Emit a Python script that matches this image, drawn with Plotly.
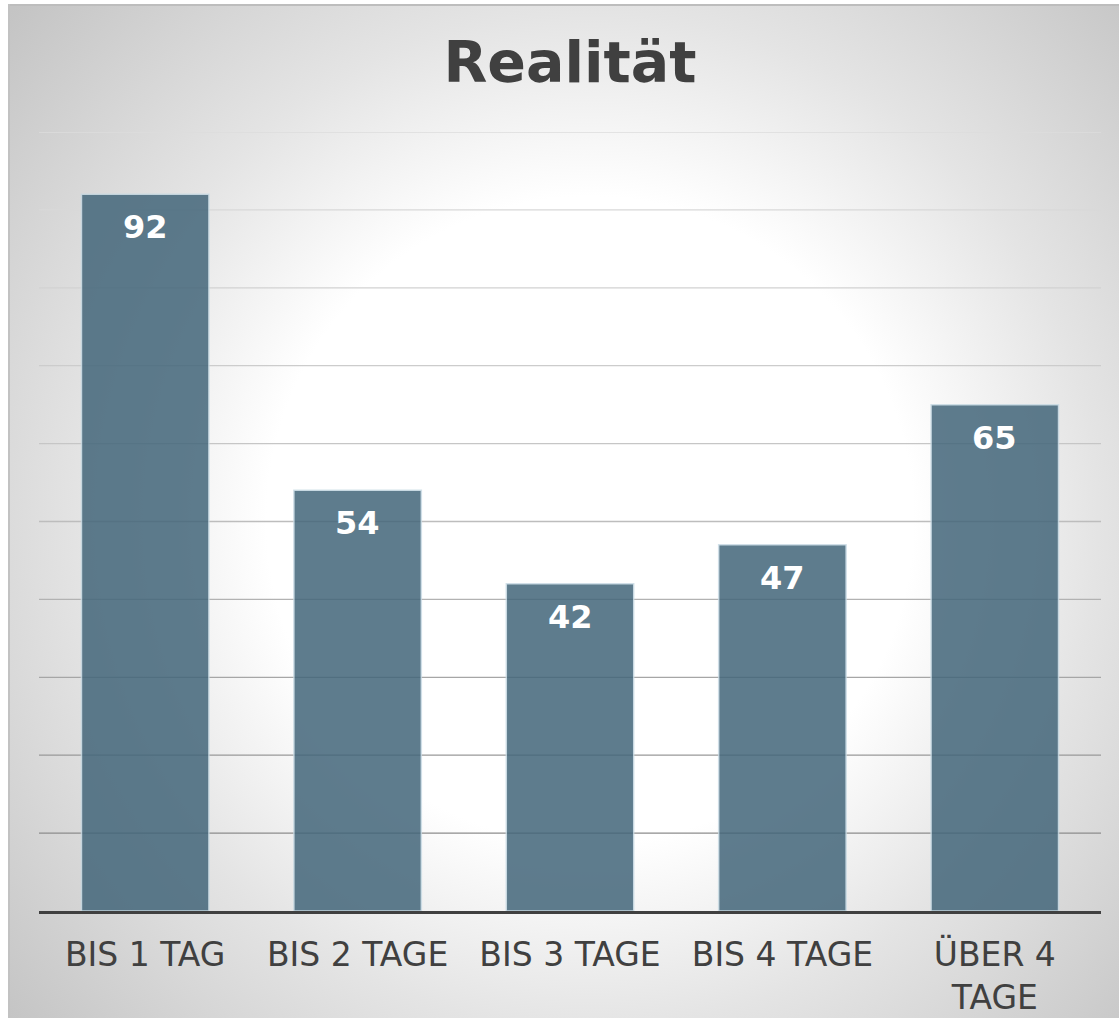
import base64
import plotly.graph_objects as go

# ---- data ----
categories = ["BIS 1 TAG", "BIS 2 TAGE", "BIS 3 TAGE", "BIS 4 TAGE", "ÜBER 4<br>TAGE"]
values = [92, 54, 42, 47, 65]
grid_values = [10, 20, 30, 40, 50, 60, 70, 80, 90, 100]
title_text = "Realität"

# ---- styles ----
grid_colors = ["#8c8c8c", "#999999", "#a6a6a6", "#b2b2b2", "#bdbdbd",
               "#c6c6c6", "#cccccc", "#d2d2d2", "#d8d8d8", "#dcdcdc"]
W, H = 1119, 1019
L, R, T, B = 39, 18, 132, 108
pw, ph = W - L - R, H - T - B

# background radial gradient (chart area) as inline SVG image
bx0, by0, bx1, by1 = 8, 4, 1119, 1018
bw, bh = bx1 - bx0, by1 - by0
svg = f'''<svg xmlns="http://www.w3.org/2000/svg" width="{bw}" height="{bh}" viewBox="0 0 {bw} {bh}" preserveAspectRatio="none">
<defs><radialGradient id="g" gradientUnits="userSpaceOnUse" cx="{590-bx0}" cy="{520-by0}" r="770">
<stop offset="0" stop-color="#ffffff"/>
<stop offset="0.42" stop-color="#ffffff"/>
<stop offset="0.66" stop-color="#e4e4e4"/>
<stop offset="1" stop-color="#c4c4c4"/>
</radialGradient></defs>
<rect x="0" y="0" width="{bw}" height="{bh}" fill="url(#g)"/>
<line x1="0" y1="1" x2="{bw}" y2="1" stroke="#bdbdbd" stroke-width="2"/>
<line x1="1" y1="0" x2="1" y2="{bh}" stroke="#c2c2c2" stroke-width="2"/>
</svg>'''
src = "data:image/svg+xml;base64," + base64.b64encode(svg.encode()).decode()

fig = go.Figure()
fig.add_trace(go.Bar(
    x=categories, y=values,
    marker=dict(color="#43667a", opacity=0.85,
                line=dict(color="rgba(200,218,228,0.9)", width=1.5)),
    hoverinfo="skip",
))

fig.add_layout_image(dict(
    source=src, xref="paper", yref="paper",
    x=(bx0 - L) / pw, y=(H - B - by0) / ph,
    sizex=bw / pw, sizey=bh / ph,
    xanchor="left", yanchor="top", sizing="stretch", layer="below",
))

for gv, gc in zip(grid_values, grid_colors):
    fig.add_shape(type="line", xref="paper", yref="y", x0=0, x1=1, y0=gv, y1=gv,
                  line=dict(color=gc, width=1.3), layer="below")

for c, v in zip(categories, values):
    fig.add_annotation(x=c, y=v, text=f"<b>{v}</b>", showarrow=False,
                       yanchor="middle", yshift=-33,
                       font=dict(family="DejaVu Sans", size=32, color="white"))

fig.update_layout(
    width=W, height=H,
    margin=dict(l=L, r=R, t=T, b=B, pad=0, autoexpand=False),
    paper_bgcolor="white", plot_bgcolor="rgba(0,0,0,0)",
    showlegend=False, bargap=0.4,
    title=dict(text=f"<b>{title_text}</b>", x=0.5, xref="paper", xanchor="center",
               y=1 - 62 / H, yref="container", yanchor="middle",
               font=dict(family="DejaVu Sans", size=57, color="#404040")),
    xaxis=dict(showgrid=False, showline=True, linecolor="#404040", linewidth=3,
               tickfont=dict(family="DejaVu Sans", size=33, color="#404040"),
               ticks="", ticklabelstandoff=12, zeroline=False, fixedrange=True,
               automargin=False),
    yaxis=dict(range=[0, 100], showgrid=False, showticklabels=False, zeroline=False,
               showline=False, ticks="", fixedrange=True, automargin=False),
)

fig.write_html("out.html", config={"displayModeBar": False},
               post_script="document.body.style.margin='0';document.body.style.padding='0';")
